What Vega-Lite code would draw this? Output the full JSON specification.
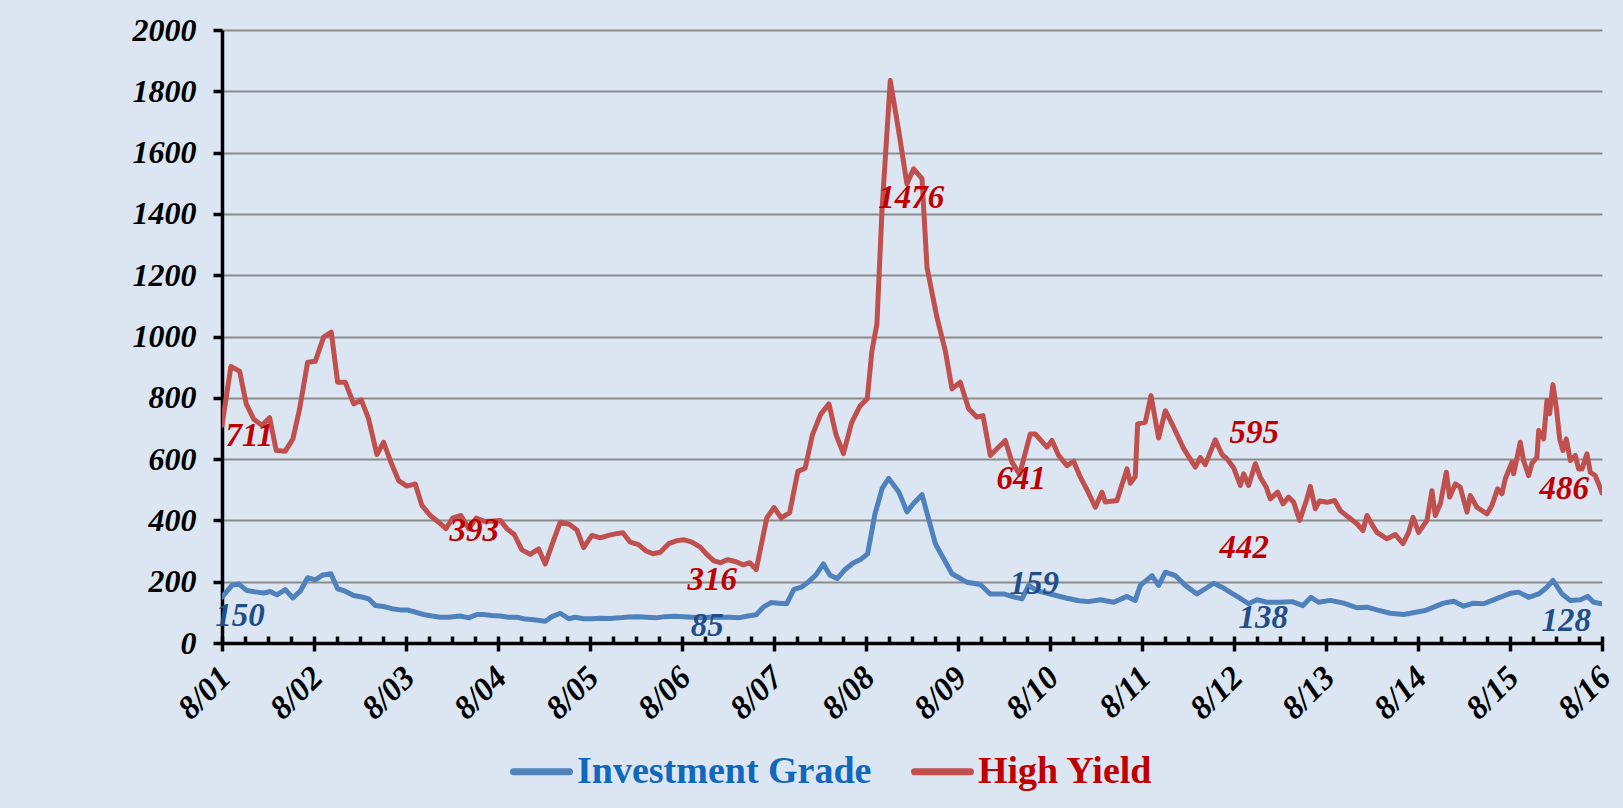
{
  "$schema": "https://vega.github.io/schema/vega-lite/v6.json",
  "width": 1380,
  "height": 613,
  "autosize": {"type": "none"},
  "padding": {"left": 222, "top": 30, "right": 21, "bottom": 165},
  "background": "#dce6f2",
  "config": {"view": {"stroke": null}, "font": "Liberation Serif"},
  "datasets": {
    "ig": [
      {"t":2001.583,"v":150},{"t":2001.691,"v":188},{"t":2001.764,"v":193},{"t":2001.854,"v":171},{"t":2001.963,"v":166},{"t":2002.035,"v":163},{"t":2002.108,"v":168},{"t":2002.180,"v":157},{"t":2002.271,"v":174},{"t":2002.354,"v":147},{"t":2002.434,"v":169},{"t":2002.514,"v":213},{"t":2002.597,"v":206},{"t":2002.680,"v":222},{"t":2002.767,"v":226},{"t":2002.840,"v":177},{"t":2002.923,"v":169},{"t":2003.014,"v":155},{"t":2003.104,"v":150},{"t":2003.177,"v":144},{"t":2003.249,"v":122},{"t":2003.340,"v":119},{"t":2003.430,"v":112},{"t":2003.521,"v":108},{"t":2003.593,"v":108},{"t":2003.684,"v":101},{"t":2003.774,"v":93},{"t":2003.865,"v":88},{"t":2003.956,"v":84},{"t":2004.046,"v":84},{"t":2004.173,"v":88},{"t":2004.264,"v":82},{"t":2004.354,"v":93},{"t":2004.427,"v":93},{"t":2004.517,"v":90},{"t":2004.608,"v":88},{"t":2004.698,"v":84},{"t":2004.789,"v":84},{"t":2004.880,"v":78},{"t":2004.970,"v":76},{"t":2005.097,"v":71},{"t":2005.170,"v":86},{"t":2005.260,"v":97},{"t":2005.351,"v":79},{"t":2005.423,"v":84},{"t":2005.514,"v":79},{"t":2005.605,"v":79},{"t":2005.695,"v":81},{"t":2005.8,"v":80},{"t":2005.9,"v":82},{"t":2006.0,"v":85},{"t":2006.1,"v":86},{"t":2006.2,"v":84},{"t":2006.3,"v":82},{"t":2006.4,"v":86},{"t":2006.5,"v":87},{"t":2006.6,"v":86},{"t":2006.7,"v":84},{"t":2006.8,"v":82},{"t":2006.9,"v":85},{"t":2007.0,"v":84},{"t":2007.1,"v":84},{"t":2007.2,"v":82},{"t":2007.3,"v":88},{"t":2007.39,"v":92},{"t":2007.47,"v":118},{"t":2007.55,"v":132},{"t":2007.63,"v":130},{"t":2007.72,"v":128},{"t":2007.8,"v":175},{"t":2007.88,"v":182},{"t":2007.96,"v":200},{"t":2008.04,"v":222},{"t":2008.12,"v":258},{"t":2008.19,"v":222},{"t":2008.27,"v":210},{"t":2008.35,"v":238},{"t":2008.44,"v":260},{"t":2008.52,"v":272},{"t":2008.6,"v":290},{"t":2008.68,"v":420},{"t":2008.76,"v":505},{"t":2008.83,"v":537},{"t":2008.94,"v":493},{"t":2009.028,"v":428},{"t":2009.1,"v":455},{"t":2009.192,"v":484},{"t":2009.337,"v":324},{"t":2009.518,"v":226},{"t":2009.681,"v":198},{"t":2009.826,"v":191},{"t":2009.934,"v":160},{"t":2010.080,"v":160},{"t":2010.206,"v":149},{"t":2010.279,"v":144},{"t":2010.351,"v":188},{"t":2010.441,"v":171},{"t":2010.586,"v":160},{"t":2010.768,"v":146},{"t":2010.9,"v":138},{"t":2011.0,"v":135},{"t":2011.130,"v":141},{"t":2011.275,"v":133},{"t":2011.420,"v":152},{"t":2011.510,"v":139},{"t":2011.565,"v":188},{"t":2011.692,"v":220},{"t":2011.764,"v":188},{"t":2011.837,"v":231},{"t":2011.945,"v":220},{"t":2012.054,"v":188},{"t":2012.181,"v":160},{"t":2012.271,"v":177},{"t":2012.362,"v":195},{"t":2012.453,"v":182},{"t":2012.561,"v":162},{"t":2012.634,"v":149},{"t":2012.742,"v":128},{"t":2012.833,"v":141},{"t":2012.942,"v":133},{"t":2013.087,"v":133},{"t":2013.213,"v":135},{"t":2013.333,"v":122},{"t":2013.420,"v":149},{"t":2013.503,"v":133},{"t":2013.630,"v":139},{"t":2013.775,"v":130},{"t":2013.920,"v":115},{"t":2014.029,"v":117},{"t":2014.137,"v":108},{"t":2014.282,"v":97},{"t":2014.427,"v":93},{"t":2014.572,"v":101},{"t":2014.663,"v":106},{"t":2014.753,"v":117},{"t":2014.862,"v":130},{"t":2014.971,"v":136},{"t":2015.080,"v":120},{"t":2015.188,"v":130},{"t":2015.297,"v":128},{"t":2015.460,"v":147},{"t":2015.587,"v":162},{"t":2015.677,"v":166},{"t":2015.786,"v":149},{"t":2015.895,"v":160},{"t":2015.986,"v":182},{"t":2016.050,"v":204},{"t":2016.148,"v":160},{"t":2016.239,"v":139},{"t":2016.347,"v":141},{"t":2016.427,"v":152},{"t":2016.492,"v":133},{"t":2016.583,"v":128}
    ],
    "hy": [
      {"t":2001.583,"v":710},{"t":2001.680,"v":902},{"t":2001.775,"v":887},{"t":2001.847,"v":780},{"t":2001.927,"v":731},{"t":2002.017,"v":710},{"t":2002.101,"v":735},{"t":2002.173,"v":628},{"t":2002.271,"v":626},{"t":2002.354,"v":666},{"t":2002.427,"v":764},{"t":2002.514,"v":916},{"t":2002.597,"v":919},{"t":2002.688,"v":998},{"t":2002.771,"v":1014},{"t":2002.840,"v":851},{"t":2002.923,"v":851},{"t":2003.014,"v":780},{"t":2003.097,"v":793},{"t":2003.177,"v":731},{"t":2003.267,"v":615},{"t":2003.340,"v":655},{"t":2003.419,"v":590},{"t":2003.503,"v":530},{"t":2003.593,"v":512},{"t":2003.684,"v":519},{"t":2003.756,"v":449},{"t":2003.847,"v":416},{"t":2003.938,"v":394},{"t":2004.017,"v":373},{"t":2004.093,"v":408},{"t":2004.180,"v":416},{"t":2004.264,"v":373},{"t":2004.347,"v":408},{"t":2004.434,"v":397},{"t":2004.517,"v":397},{"t":2004.608,"v":400},{"t":2004.680,"v":373},{"t":2004.760,"v":354},{"t":2004.843,"v":304},{"t":2004.934,"v":289},{"t":2005.025,"v":307},{"t":2005.097,"v":258},{"t":2005.180,"v":329},{"t":2005.260,"v":394},{"t":2005.361,"v":387},{"t":2005.441,"v":369},{"t":2005.514,"v":311},{"t":2005.604,"v":351},{"t":2005.695,"v":343},{"t":2005.785,"v":351},{"t":2005.858,"v":356},{"t":2005.941,"v":360},{"t":2006.021,"v":329},{"t":2006.111,"v":321},{"t":2006.195,"v":300},{"t":2006.267,"v":291},{"t":2006.347,"v":296},{"t":2006.438,"v":324},{"t":2006.528,"v":334},{"t":2006.601,"v":337},{"t":2006.691,"v":329},{"t":2006.782,"v":313},{"t":2006.85,"v":290},{"t":2006.93,"v":268},{"t":2007.0,"v":262},{"t":2007.08,"v":272},{"t":2007.17,"v":265},{"t":2007.25,"v":255},{"t":2007.32,"v":262},{"t":2007.39,"v":240},{"t":2007.505,"v":408},{"t":2007.584,"v":442},{"t":2007.663,"v":408},{"t":2007.753,"v":425},{"t":2007.843,"v":560},{"t":2007.922,"v":570},{"t":2008.0,"v":678},{"t":2008.09,"v":746},{"t":2008.18,"v":780},{"t":2008.259,"v":678},{"t":2008.338,"v":618},{"t":2008.427,"v":719},{"t":2008.517,"v":773},{"t":2008.597,"v":797},{"t":2008.648,"v":954},{"t":2008.702,"v":1041},{"t":2008.757,"v":1411},{"t":2008.847,"v":1835},{"t":2008.938,"v":1672},{"t":2009.028,"v":1498},{"t":2009.101,"v":1547},{"t":2009.192,"v":1515},{"t":2009.246,"v":1226},{"t":2009.354,"v":1063},{"t":2009.445,"v":954},{"t":2009.518,"v":829},{"t":2009.608,"v":851},{"t":2009.699,"v":764},{"t":2009.789,"v":737},{"t":2009.855,"v":742},{"t":2009.934,"v":612},{"t":2010.007,"v":634},{"t":2010.097,"v":661},{"t":2010.170,"v":590},{"t":2010.253,"v":550},{"t":2010.369,"v":682},{"t":2010.423,"v":682},{"t":2010.550,"v":639},{"t":2010.605,"v":661},{"t":2010.677,"v":612},{"t":2010.768,"v":579},{"t":2010.840,"v":593},{"t":2010.913,"v":541},{"t":2010.985,"v":500},{"t":2011.076,"v":443},{"t":2011.148,"v":492},{"t":2011.184,"v":460},{"t":2011.311,"v":465},{"t":2011.420,"v":568},{"t":2011.456,"v":521},{"t":2011.510,"v":543},{"t":2011.536,"v":715},{"t":2011.619,"v":720},{"t":2011.681,"v":807},{"t":2011.764,"v":669},{"t":2011.837,"v":758},{"t":2011.927,"v":704},{"t":2012.036,"v":634},{"t":2012.163,"v":574},{"t":2012.217,"v":605},{"t":2012.271,"v":582},{"t":2012.380,"v":663},{"t":2012.453,"v":615},{"t":2012.507,"v":601},{"t":2012.579,"v":572},{"t":2012.652,"v":514},{"t":2012.688,"v":552},{"t":2012.742,"v":514},{"t":2012.815,"v":585},{"t":2012.869,"v":541},{"t":2012.934,"v":508},{"t":2012.978,"v":470},{"t":2013.058,"v":492},{"t":2013.116,"v":454},{"t":2013.177,"v":476},{"t":2013.232,"v":459},{"t":2013.297,"v":400},{"t":2013.333,"v":432},{"t":2013.376,"v":470},{"t":2013.413,"v":511},{"t":2013.467,"v":438},{"t":2013.514,"v":463},{"t":2013.594,"v":459},{"t":2013.677,"v":465},{"t":2013.739,"v":432},{"t":2013.829,"v":410},{"t":2013.920,"v":389},{"t":2013.985,"v":367},{"t":2014.029,"v":416},{"t":2014.101,"v":378},{"t":2014.137,"v":361},{"t":2014.246,"v":340},{"t":2014.337,"v":354},{"t":2014.420,"v":324},{"t":2014.481,"v":361},{"t":2014.529,"v":410},{"t":2014.590,"v":361},{"t":2014.681,"v":400},{"t":2014.735,"v":497},{"t":2014.771,"v":416},{"t":2014.826,"v":454},{"t":2014.891,"v":557},{"t":2014.927,"v":476},{"t":2014.989,"v":519},{"t":2015.043,"v":508},{"t":2015.116,"v":427},{"t":2015.152,"v":481},{"t":2015.224,"v":443},{"t":2015.333,"v":421},{"t":2015.387,"v":449},{"t":2015.449,"v":503},{"t":2015.496,"v":487},{"t":2015.532,"v":536},{"t":2015.605,"v":590},{"t":2015.623,"v":552},{"t":2015.695,"v":655},{"t":2015.731,"v":595},{"t":2015.786,"v":546},{"t":2015.822,"v":587},{"t":2015.876,"v":606},{"t":2015.895,"v":693},{"t":2015.949,"v":666},{"t":2015.985,"v":791},{"t":2016.014,"v":748},{"t":2016.050,"v":843},{"t":2016.087,"v":769},{"t":2016.123,"v":666},{"t":2016.159,"v":628},{"t":2016.195,"v":666},{"t":2016.239,"v":595},{"t":2016.293,"v":612},{"t":2016.329,"v":568},{"t":2016.366,"v":568},{"t":2016.420,"v":617},{"t":2016.456,"v":557},{"t":2016.510,"v":546},{"t":2016.547,"v":519},{"t":2016.583,"v":490}
    ],
    "labels_hy": [
      {"t":2001.88,"v":674,"label":"711"},{"t":2004.325,"v":364,"label":"393"},{"t":2006.912,"v":204,"label":"316"},{"t":2009.075,"v":1452,"label":"1476"},{"t":2010.271,"v":534,"label":"641"},{"t":2012.804,"v":685,"label":"595"},{"t":2012.695,"v":310,"label":"442"},{"t":2016.173,"v":501,"label":"486"}
    ],
    "labels_ig": [
      {"t":2001.78,"v":87,"label":"150"},{"t":2006.858,"v":57,"label":"85"},{"t":2010.412,"v":194,"label":"159"},{"t":2012.901,"v":80,"label":"138"},{"t":2016.195,"v":73,"label":"128"}
    ]
  },
  "layer": [
    {
      "data": {"name": "ig"},
      "mark": {"type": "line", "strokeWidth": 5, "strokeJoin": "round", "strokeCap": "round", "clip": true},
      "encoding": {
        "x": {
          "field": "t", "type": "quantitative",
          "scale": {"domain": [2001.5833, 2016.5833], "nice": false, "zero": false},
          "axis": {
            "orient": "bottom",
            "values": [2001.5833, 2002.5833, 2003.5833, 2004.5833, 2005.5833, 2006.5833, 2007.5833, 2008.5833, 2009.5833, 2010.5833, 2011.5833, 2012.5833, 2013.5833, 2014.5833, 2015.5833, 2016.5833],
            "labelExpr": "'8/' + (floor(datum.value) % 100 < 10 ? '0' : '') + (floor(datum.value) % 100)",
            "title": null, "grid": false,
            "domainColor": "#000000", "domainWidth": 3.5,
            "tickColor": "#000000", "tickWidth": 3.5, "tickSize": 8,
            "labelAngle": -45, "labelAlign": "right", "labelBaseline": "middle",
            "labelFont": "Liberation Serif", "labelFontSize": 33, "labelFontWeight": "bold", "labelFontStyle": "italic",
            "labelColor": "#000000", "labelPadding": 21, "labelOffset": 3, "labelOverlap": false, "labelFlush": false, "labelBound": false
          }
        },
        "y": {
          "field": "v", "type": "quantitative",
          "scale": {"domain": [0, 2000], "nice": false},
          "axis": {
            "values": [0, 200, 400, 600, 800, 1000, 1200, 1400, 1600, 1800, 2000],
            "format": "d",
            "title": null, "grid": true, "gridColor": "#8c8c8c", "gridWidth": 2,
            "domainColor": "#000000", "domainWidth": 3.5,
            "tickColor": "#000000", "tickWidth": 3.5, "tickSize": 9,
            "labelFont": "Liberation Serif", "labelFontSize": 32, "labelFontWeight": "bold", "labelFontStyle": "italic",
            "labelColor": "#000000", "labelPadding": 17, "labelFlush": false, "labelOverlap": false
          }
        },
        "color": {
          "datum": "Investment Grade", "type": "nominal",
          "scale": {"domain": ["Investment Grade", "High Yield"], "range": ["#4f81bd", "#c0504d"]},
          "legend": {
            "orient": "none", "legendX": 288, "legendY": 710, "direction": "horizontal", "title": null,
            "symbolType": "stroke", "symbolSize": 3136, "symbolStrokeWidth": 7,
            "labelFont": "Liberation Serif", "labelFontSize": 38, "labelFontWeight": "bold",
            "labelOffset": 4, "columnPadding": 28, "labelLimit": 500,
            "encode": {
              "labels": {"update": {"fill": {"signal": "datum.label === 'High Yield' ? '#c00000' : '#1068bd'"}}},
              "symbols": {"update": {"strokeCap": {"value": "round"}}}
            }
          }
        }
      }
    },
    {
      "data": {"name": "hy"},
      "mark": {"type": "line", "strokeWidth": 5, "strokeJoin": "round", "strokeCap": "round", "clip": true},
      "encoding": {
        "x": {"field": "t", "type": "quantitative", "axis": null},
        "y": {"field": "v", "type": "quantitative"},
        "color": {"datum": "High Yield", "type": "nominal"}
      }
    },
    {
      "data": {"name": "labels_hy"},
      "mark": {"type": "text", "color": "#c00000", "font": "Liberation Serif", "fontSize": 33, "fontWeight": "bold", "fontStyle": "italic", "align": "center", "baseline": "middle"},
      "encoding": {
        "x": {"field": "t", "type": "quantitative", "axis": null},
        "y": {"field": "v", "type": "quantitative"},
        "text": {"field": "label", "type": "nominal"}
      }
    },
    {
      "data": {"name": "labels_ig"},
      "mark": {"type": "text", "color": "#1f4e89", "font": "Liberation Serif", "fontSize": 33, "fontWeight": "bold", "fontStyle": "italic", "align": "center", "baseline": "middle"},
      "encoding": {
        "x": {
          "field": "t", "type": "quantitative",
          "axis": {
            "orient": "bottom",
            "values": [2001.5833, 2001.8333, 2002.0833, 2002.3333, 2002.5833, 2002.8333, 2003.0833, 2003.3333, 2003.5833, 2003.8333, 2004.0833, 2004.3333, 2004.5833, 2004.8333, 2005.0833, 2005.3333, 2005.5833, 2005.8333, 2006.0833, 2006.3333, 2006.5833, 2006.8333, 2007.0833, 2007.3333, 2007.5833, 2007.8333, 2008.0833, 2008.3333, 2008.5833, 2008.8333, 2009.0833, 2009.3333, 2009.5833, 2009.8333, 2010.0833, 2010.3333, 2010.5833, 2010.8333, 2011.0833, 2011.3333, 2011.5833, 2011.8333, 2012.0833, 2012.3333, 2012.5833, 2012.8333, 2013.0833, 2013.3333, 2013.5833, 2013.8333, 2014.0833, 2014.3333, 2014.5833, 2014.8333, 2015.0833, 2015.3333, 2015.5833, 2015.8333, 2016.0833, 2016.3333, 2016.5833],
            "labels": false, "domain": false, "grid": false, "title": null,
            "tickColor": "#000000", "tickWidth": 3.5, "tickSize": -7
          }
        },
        "y": {"field": "v", "type": "quantitative"},
        "text": {"field": "label", "type": "nominal"}
      }
    }
  ],
  "resolve": {"axis": {"x": "independent"}}
}
